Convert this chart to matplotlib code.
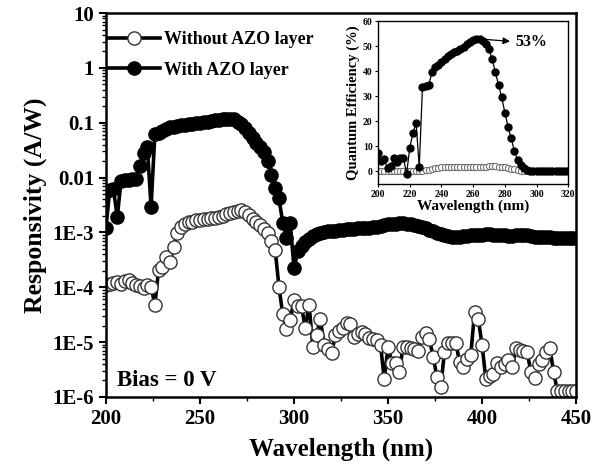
import numpy as np
import matplotlib
matplotlib.use('Agg')
import matplotlib.pyplot as plt

plt.rcParams['font.family'] = 'Liberation Serif'
plt.rcParams['font.weight'] = 'bold'
plt.rcParams['axes.labelweight'] = 'bold'

# longueurs d'onde (nm), pas de 2 nm
wavelength = np.arange(200, 451, 2)

# sans couche AZO (A/W)
resp_without = [
    1.12e-4, 1.17e-4, 1.20e-4, 1.26e-4, 1.17e-4, 1.32e-4, 1.38e-4, 1.20e-4, 1.12e-4, 1.05e-4,
    9.8e-5, 1.10e-4, 1.02e-4,
    4.8e-5, 2.1e-4, 2.3e-4, 3.6e-4, 2.9e-4, 5.5e-4, 9.8e-4, 1.26e-3, 1.45e-3, 1.55e-3,
    1.58e-3, 1.66e-3, 1.70e-3, 1.74e-3, 1.78e-3, 1.82e-3, 1.86e-3, 1.90e-3, 2.0e-3, 2.14e-3,
    2.3e-3, 2.4e-3, 2.5e-3, 2.57e-3, 2.34e-3, 2.04e-3, 1.78e-3, 1.58e-3, 1.38e-3, 1.17e-3,
    9.8e-4, 6.9e-4,
    4.7e-4, 1.02e-4, 3.2e-5, 1.7e-5, 2.5e-5, 5.9e-5, 4.5e-5, 4.5e-5, 1.8e-5, 4.8e-5,
    8.3e-6, 1.35e-5, 2.6e-5, 8.9e-6, 7.6e-6, 6.3e-6, 1.35e-5, 1.6e-5, 1.8e-5, 2.2e-5,
    2.1e-5, 1.26e-5, 1.4e-5, 1.55e-5, 1.38e-5, 1.2e-5, 1.15e-5, 1.1e-5, 8.9e-6, 2.1e-6,
    8.3e-6, 4.2e-6, 4.2e-6, 2.9e-6, 8.3e-6, 8.3e-6, 7.9e-6, 7.6e-6, 6.8e-6, 1.26e-5,
    1.48e-5, 1.12e-5, 5.4e-6, 2.3e-6, 1.55e-6, 6.5e-6, 9.8e-6, 9.8e-6, 9.8e-6, 4.4e-6,
    3.5e-6, 5.0e-6, 5.9e-6, 3.5e-5, 2.6e-5, 8.9e-6, 2.1e-6, 2.4e-6, 2.6e-6, 4.2e-6,
    3.5e-6, 4.0e-6, 4.8e-6, 3.5e-6, 7.9e-6, 7.2e-6, 6.9e-6, 6.5e-6, 2.8e-6, 2.2e-6,
    4.0e-6, 4.8e-6, 6.5e-6, 7.9e-6, 2.9e-6, 1.3e-6, 1.3e-6, 1.3e-6, 1.3e-6, 1.3e-6,
    1.3e-6,
]

# avec couche AZO (A/W)
resp_with = [
    1.2e-3, 6.0e-3, 6.2e-3, 1.9e-3, 8.5e-3, 9.0e-3, 9.2e-3, 9.5e-3, 9.6e-3, 1.6e-2,
    2.8e-2, 3.6e-2, 2.9e-3,
    6.2e-2, 6.6e-2, 7.2e-2, 7.8e-2, 8.2e-2, 8.5e-2, 8.8e-2, 9.0e-2, 9.2e-2, 9.4e-2,
    9.6e-2, 9.9e-2, 0.101, 0.103, 0.105, 0.108, 0.111, 0.114, 0.117, 0.119, 0.118,
    0.115, 0.105,
    0.095, 0.080, 0.065, 0.052, 0.043, 0.036, 0.029, 0.020, 0.011, 6.4e-3, 4.2e-3,
    1.5e-3, 8.0e-4, 1.5e-3, 2.2e-4, 4.5e-4, 5.6e-4, 6.6e-4, 7.6e-4, 8.5e-4, 9.3e-4,
    9.8e-4, 1.02e-3, 1.05e-3,
    1.07e-3, 1.08e-3, 1.10e-3, 1.12e-3, 1.14e-3, 1.16e-3, 1.17e-3, 1.18e-3, 1.19e-3, 1.20e-3,
    1.21e-3, 1.24e-3, 1.28e-3, 1.32e-3, 1.36e-3, 1.40e-3, 1.43e-3, 1.45e-3, 1.46e-3, 1.46e-3,
    1.45e-3, 1.43e-3, 1.39e-3, 1.33e-3, 1.26e-3, 1.19e-3, 1.11e-3, 1.04e-3, 9.7e-4, 9.2e-4,
    8.8e-4, 8.5e-4, 8.3e-4, 8.3e-4, 8.4e-4, 8.5e-4, 8.7e-4, 8.8e-4, 8.9e-4, 9.0e-4,
    9.1e-4, 9.2e-4, 9.2e-4, 9.1e-4, 9.0e-4, 8.9e-4, 8.8e-4, 8.7e-4, 8.7e-4, 8.8e-4,
    8.9e-4, 8.9e-4, 8.8e-4, 8.6e-4, 8.4e-4, 8.3e-4, 8.2e-4, 8.1e-4, 8.1e-4, 8.0e-4,
    8.0e-4, 7.9e-4, 7.9e-4, 7.8e-4, 7.8e-4, 7.8e-4,
]

y_ticks = [1e-6, 1e-5, 1e-4, 1e-3, 0.01, 0.1, 1, 10]
y_ticklabels = ['1E-6', '1E-5', '1E-4', '1E-3', '0.01', '0.1', '1', '10']

# encart : rendement quantique (%)
inset_wl = np.arange(200, 321, 2)
qe_with = [
    7.4, 4.1, 4.8, 1.2, 2.1, 5.4, 3.6, 5.4, 5.4, -0.9, 9.4, 15.3, 19.3, 1.7,
    33.5, 34.0, 34.5, 39.5, 41.8, 42.3, 43.5, 44.8, 46.0, 47.0, 47.6, 48.2, 49.0,
    49.8, 50.7, 51.8, 52.4, 52.7, 52.8, 52.2, 50.9, 48.7, 44.8, 39.5, 34.5, 29.5,
    23.5, 17.8, 13.2, 8.1, 4.6, 2.6, 1.4, 0.6, 0.1,
    0.0, 0.0, 0.0, 0.0, 0.0, 0.0, 0.0, 0.0, 0.0, 0.0, 0.0, 0.0,
]
qe_without = [
    0.3, 0.3, 0.3, 0.3, 0.3, 0.3, 0.3, 0.3, 0.3, 0.3, 0.3, 0.3, 0.3, 0.3, 0.3,
    0.4, 0.6, 0.9, 1.2, 1.5, 1.6,
    1.7, 1.7, 1.7, 1.7, 1.7, 1.7, 1.7, 1.7, 1.7, 1.7, 1.7, 1.7, 1.7,
    1.9, 2.0, 2.0, 2.0, 1.9, 1.8, 1.6, 1.4, 1.1, 0.8, 0.5, 0.3,
    0.1, 0.1, 0.1, 0.1, 0.1, 0.1, 0.1, 0.1, 0.1, 0.1, 0.1, 0.1, 0.1, 0.1, 0.1,
]

fig = plt.figure(figsize=(6.02, 4.67), dpi=100)
ax = fig.add_axes([0.176, 0.150, 0.781, 0.822])

ax.plot(wavelength, resp_without, '-o', color='black', lw=2.6, ms=9.5,
        mfc='white', mec='#333333', mew=1.0, label='Without AZO layer')
ax.plot(wavelength, resp_with, '-o', color='black', lw=2.6, ms=9.5,
        mfc='black', mec='black', label='With AZO layer')

ax.set_yscale('log')
ax.set_xlim(200, 450)
ax.set_ylim(1e-6, 10)
ax.set_yticks(y_ticks)
ax.set_yticklabels(y_ticklabels)
ax.set_xticks([200, 250, 300, 350, 400, 450])
ax.set_xticks([225, 275, 325, 375, 425], minor=True)
ax.tick_params(which='major', direction='out', length=5, width=1.5, labelsize=15)
ax.tick_params(which='minor', direction='out', length=3, width=1.0)
for s in ax.spines.values():
    s.set_linewidth(1.8)
ax.set_xlabel('Wavelength (nm)', fontsize=18, labelpad=6)
ax.set_ylabel('Responsivity (A/W)', fontsize=18.5, labelpad=4)

ax.legend(loc='upper left', frameon=False, fontsize=13, handlelength=2.9,
          bbox_to_anchor=(-0.03, 0.995), labelspacing=0.75, handletextpad=0.2)
ax.text(206, 2.0e-6, 'Bias = 0 V', fontsize=16.5, fontweight='bold', va='center')

# encart
axin = fig.add_axes([0.628, 0.606, 0.316, 0.349])
axin.plot(inset_wl, qe_without, '-o', color='#777777', lw=0.8, ms=4.5,
          mfc='white', mec='#666666', mew=0.7)
axin.plot(inset_wl, qe_with, '-o', color='black', lw=0.9, ms=5,
          mfc='black', mec='black')
axin.set_xlim(200, 320)
axin.set_ylim(-5, 60)
axin.set_xticks(range(200, 321, 20))
axin.set_yticks(range(0, 61, 10))
axin.tick_params(direction='out', length=2.5, width=0.8, labelsize=7, pad=1.5)
for s in axin.spines.values():
    s.set_linewidth(1.0)
axin.set_xlabel('Wavelength (nm)', fontsize=11, labelpad=1)
axin.set_ylabel('Quantum Efficiency (%)', fontsize=10.5, labelpad=2)
axin.annotate('', xy=(285, 51.8), xytext=(265, 52.8),
              arrowprops=dict(arrowstyle='-|>', color='black', lw=0.9))
axin.text(286.5, 51.6, '53%', fontsize=11.5, fontweight='bold', va='center')

fig.savefig('out.png', dpi=100)
